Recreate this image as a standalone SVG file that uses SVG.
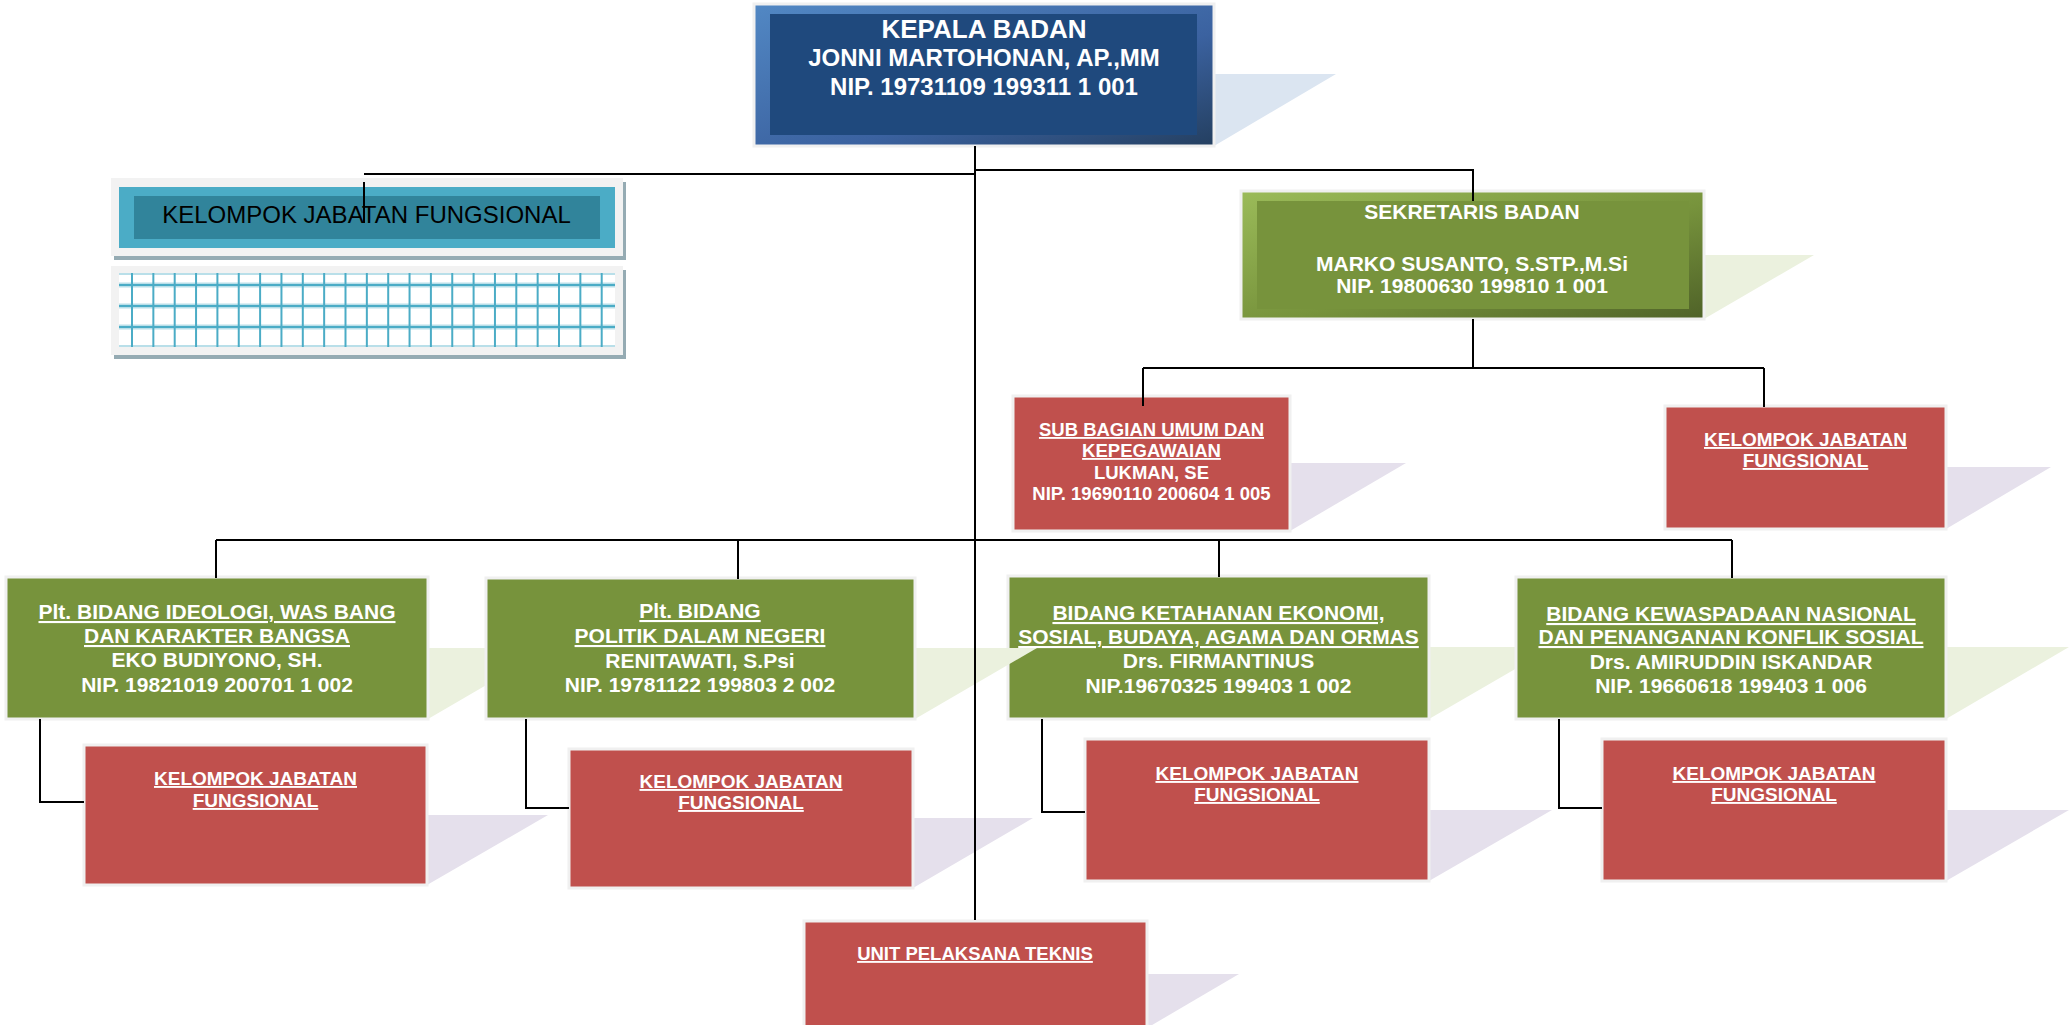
<svg xmlns="http://www.w3.org/2000/svg" width="2071" height="1025" viewBox="0 0 2071 1025">
<defs>
<linearGradient id="gBlue" x1="0" y1="0" x2="1" y2="1">
<stop offset="0" stop-color="#5288c4"/>
<stop offset="0.6" stop-color="#3b62a0"/>
<stop offset="1" stop-color="#243f60"/>
</linearGradient>
<linearGradient id="gGreen" x1="0" y1="0" x2="1" y2="1">
<stop offset="0" stop-color="#9bbb59"/>
<stop offset="0.55" stop-color="#77933c"/>
<stop offset="1" stop-color="#4f6228"/>
</linearGradient>
<style>
.frame{stroke:#f0f0f0;stroke-width:3}
.red{fill:#c0504d}
.grn{fill:#77933c}
.shB{fill:#dbe5f1}
.shG{fill:#ebf1de}
.shR{fill:#e5e0ec}
.t{font-family:"Liberation Sans",Arial,sans-serif;font-weight:bold;fill:#ffffff;text-anchor:middle}
.u{text-decoration:underline}
.f21{font-size:21px}
.f19{font-size:19px}
.f185{font-size:18.5px}
.conn{fill:none;stroke:#000000;stroke-width:2}
.grid{stroke:#4bacc6;stroke-width:2}
.gridh{stroke:#b9dfe9;stroke-width:5}
</style>
</defs>
<rect width="2071" height="1025" fill="#ffffff"/>

<g id="kepala-badan">
<polygon class="shB" points="1214,74 1336,74 1214,146"/>
<rect class="frame" x="754" y="4" width="460" height="142" fill="url(#gBlue)"/>
<rect x="770" y="14" width="427" height="121" fill="#1f497d"/>
<text class="t" x="984" y="38" font-size="26">KEPALA BADAN</text>
<text class="t" x="984" y="66" font-size="24">JONNI MARTOHONAN, AP.,MM</text>
<text class="t" x="984" y="95" font-size="24">NIP. 19731109 199311 1 001</text>
</g>

<g id="kelompok-jabatan-fungsional-atas">
<rect x="114" y="182" width="512" height="78" fill="#95abb3"/>
<rect x="111" y="178" width="512" height="78" fill="#f2f2f2"/>
<rect x="119" y="187" width="496" height="61" fill="#4bacc6"/>
<rect x="134" y="196" width="466" height="43" fill="#31849b"/>
<text x="366.5" y="223" font-family="Liberation Sans, Arial, sans-serif" font-size="24" fill="#000000" text-anchor="middle">KELOMPOK JABATAN FUNGSIONAL</text>
</g>

<g id="tabel-fungsional">
<rect x="114" y="270" width="512" height="89" fill="#95abb3"/>
<rect x="111" y="266" width="512" height="89" fill="#f2f2f2"/>
<rect x="119" y="273" width="496" height="74" fill="#ffffff"/>
<g class="gridh">
<line x1="119" y1="285" x2="615" y2="285"/>
<line x1="119" y1="306" x2="615" y2="306"/>
<line x1="119" y1="327" x2="615" y2="327"/>
</g>
<g class="grid">
<line x1="119" y1="274" x2="615" y2="274" stroke="#b9dfe9"/>
<line x1="119" y1="346" x2="615" y2="346" stroke="#b9dfe9"/>
<line x1="119" y1="285" x2="615" y2="285"/>
<line x1="119" y1="306" x2="615" y2="306"/>
<line x1="119" y1="327" x2="615" y2="327"/>
<line x1="132" y1="273" x2="132" y2="347"/>
<line x1="153.35" y1="273" x2="153.35" y2="347"/>
<line x1="174.7" y1="273" x2="174.7" y2="347"/>
<line x1="196.05" y1="273" x2="196.05" y2="347"/>
<line x1="217.4" y1="273" x2="217.4" y2="347"/>
<line x1="238.75" y1="273" x2="238.75" y2="347"/>
<line x1="260.1" y1="273" x2="260.1" y2="347"/>
<line x1="281.45" y1="273" x2="281.45" y2="347"/>
<line x1="302.8" y1="273" x2="302.8" y2="347"/>
<line x1="324.15" y1="273" x2="324.15" y2="347"/>
<line x1="345.5" y1="273" x2="345.5" y2="347"/>
<line x1="366.85" y1="273" x2="366.85" y2="347"/>
<line x1="388.2" y1="273" x2="388.2" y2="347"/>
<line x1="409.55" y1="273" x2="409.55" y2="347"/>
<line x1="430.9" y1="273" x2="430.9" y2="347"/>
<line x1="452.25" y1="273" x2="452.25" y2="347"/>
<line x1="473.6" y1="273" x2="473.6" y2="347"/>
<line x1="494.95" y1="273" x2="494.95" y2="347"/>
<line x1="516.3" y1="273" x2="516.3" y2="347"/>
<line x1="537.65" y1="273" x2="537.65" y2="347"/>
<line x1="559" y1="273" x2="559" y2="347"/>
<line x1="580.35" y1="273" x2="580.35" y2="347"/>
<line x1="601.7" y1="273" x2="601.7" y2="347"/>
</g>
</g>

<g id="sekretaris-badan">
<polygon class="shG" points="1704,255 1814,255 1704,319"/>
<rect class="frame" x="1241" y="191" width="463" height="128" fill="url(#gGreen)"/>
<rect x="1257" y="201" width="432" height="108" fill="#77933c"/>
<text class="t f21" x="1472" y="219">SEKRETARIS BADAN</text>
<text class="t f21" x="1472" y="271">MARKO SUSANTO, S.STP.,M.Si</text>
<text class="t f21" x="1472" y="293">NIP. 19800630 199810 1 001</text>
</g>

<g id="sub-bagian-umum">
<polygon class="shR" points="1290,463 1406,463 1290,531"/>
<rect class="frame red" x="1013" y="396" width="277" height="135"/>
<text class="t f185 u" x="1151.5" y="436">SUB BAGIAN UMUM DAN</text>
<text class="t f185 u" x="1151.5" y="457">KEPEGAWAIAN</text>
<text class="t f185" x="1151.5" y="479">LUKMAN, SE</text>
<text class="t f185" x="1151.5" y="500">NIP. 19690110 200604 1 005</text>
</g>

<g id="kelompok-sekretariat">
<polygon class="shR" points="1946,467 2051,467 1946,529"/>
<rect class="frame red" x="1665" y="406" width="281" height="123"/>
<text class="t f19 u" x="1805.5" y="446">KELOMPOK JABATAN</text>
<text class="t f19 u" x="1805.5" y="467">FUNGSIONAL</text>
</g>

<g id="bidang-ideologi">
<polygon class="shG" points="428,648 550,648 428,719"/>
<rect class="frame grn" x="6" y="577" width="422" height="142"/>
<text class="t f21 u" x="217" y="619">Plt. BIDANG IDEOLOGI, WAS BANG</text>
<text class="t f21 u" x="217" y="643">DAN KARAKTER BANGSA</text>
<text class="t f21" x="217" y="667">EKO BUDIYONO, SH.</text>
<text class="t f21" x="217" y="692">NIP. 19821019 200701 1 002</text>
</g>

<g id="bidang-ketahanan-ekonomi">
<polygon class="shG" points="1429,647 1553,647 1429,719"/>
<rect class="frame grn" x="1008" y="576" width="421" height="143"/>
<text class="t f21 u" x="1218.5" y="620">BIDANG KETAHANAN EKONOMI,</text>
<text class="t f21 u" x="1218.5" y="644">SOSIAL, BUDAYA, AGAMA DAN ORMAS</text>
<text class="t f21" x="1218.5" y="668">Drs. FIRMANTINUS</text>
<text class="t f21" x="1218.5" y="693">NIP.19670325 199403 1 002</text>
</g>

<g id="bidang-politik">
<polygon class="shG" points="915,648 1037,648 915,719"/>
<rect class="frame grn" x="486" y="578" width="429" height="141"/>
<text class="t f21 u" x="700" y="618">Plt. BIDANG</text>
<text class="t f21 u" x="700" y="643">POLITIK DALAM NEGERI</text>
<text class="t f21" x="700" y="668">RENITAWATI, S.Psi</text>
<text class="t f21" x="700" y="692">NIP. 19781122 199803 2 002</text>
</g>

<g id="bidang-kewaspadaan">
<polygon class="shG" points="1946,647 2069,647 1946,719"/>
<rect class="frame grn" x="1516" y="577" width="430" height="142"/>
<text class="t f21 u" x="1731" y="621">BIDANG KEWASPADAAN NASIONAL</text>
<text class="t f21 u" x="1731" y="644">DAN PENANGANAN KONFLIK SOSIAL</text>
<text class="t f21" x="1731" y="669">Drs. AMIRUDDIN ISKANDAR</text>
<text class="t f21" x="1731" y="693">NIP. 19660618 199403 1 006</text>
</g>

<g id="kelompok-ideologi">
<polygon class="shR" points="427,815 548,815 427,885"/>
<rect class="frame red" x="84" y="745" width="343" height="140"/>
<text class="t f19 u" x="255.5" y="785">KELOMPOK JABATAN</text>
<text class="t f19 u" x="255.5" y="807">FUNGSIONAL</text>
</g>

<g id="kelompok-politik">
<polygon class="shR" points="913,818 1033,818 913,888"/>
<rect class="frame red" x="569" y="749" width="344" height="139"/>
<text class="t f19 u" x="741" y="788">KELOMPOK JABATAN</text>
<text class="t f19 u" x="741" y="809">FUNGSIONAL</text>
</g>

<g id="kelompok-ekonomi">
<polygon class="shR" points="1429,810 1552,810 1429,881"/>
<rect class="frame red" x="1085" y="739" width="344" height="142"/>
<text class="t f19 u" x="1257" y="780">KELOMPOK JABATAN</text>
<text class="t f19 u" x="1257" y="801">FUNGSIONAL</text>
</g>

<g id="kelompok-kewaspadaan">
<polygon class="shR" points="1946,810 2069,810 1946,881"/>
<rect class="frame red" x="1602" y="739" width="344" height="142"/>
<text class="t f19 u" x="1774" y="780">KELOMPOK JABATAN</text>
<text class="t f19 u" x="1774" y="801">FUNGSIONAL</text>
</g>

<g id="unit-pelaksana-teknis">
<polygon class="shR" points="1147,974 1239,974 1147,1028"/>
<rect class="frame red" x="804" y="921" width="343" height="110"/>
<text class="t f185 u" x="975" y="960">UNIT PELAKSANA TEKNIS</text>
</g>

<g id="connectors" class="conn">
<path d="M975 146 V920"/>
<path d="M975 170 H1473 V201"/>
<path d="M364 174 H975"/>
<path d="M364 182 V223"/>
<path d="M216 540 H1732"/>
<path d="M216 540 V578"/>
<path d="M738 540 V579"/>
<path d="M1219 540 V577"/>
<path d="M1732 540 V578"/>
<path d="M1473 319 V368"/>
<path d="M1143 368 H1764"/>
<path d="M1143 368 V406"/>
<path d="M1764 368 V407"/>
<path d="M40 719 V802 H84"/>
<path d="M526 719 V808 H569"/>
<path d="M1042 719 V812 H1085"/>
<path d="M1559 719 V808 H1602"/>
</g>
</svg>
